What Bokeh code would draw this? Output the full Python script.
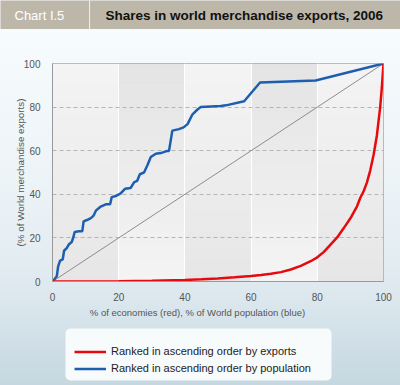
import numpy as np
from bokeh.plotting import figure
from bokeh.layouts import column
from bokeh.models import BoxAnnotation, Label, Legend, LegendItem, FixedTicker, Range1d
from bokeh.embed import file_html
from bokeh.resources import INLINE

# ---------------- data ----------------
title_tag = "Chart I.5"
title_text = "Shares in world merchandise exports, 2006"
x_label = "% of economies (red), % of World population (blue)"
y_label = "(% of World merchandise exports)"
ticks = [0, 20, 40, 60, 80, 100]
red_label = "Ranked in ascending order by exports"
blue_label = "Ranked in ascending order by population"

red_x = [0, 10, 20, 30, 40, 45, 50, 55, 60, 63, 66, 69, 72, 75, 78, 80, 82, 84, 86, 88,
         90, 92, 93, 94, 95, 96, 97, 98, 99, 99.5, 100]
red_y = [0, 0.05, 0.15, 0.35, 0.7, 1.0, 1.4, 1.9, 2.5, 3.0, 3.6, 4.3, 5.5, 7.2, 9.3, 11.1,
         13.6, 16.9, 20.2, 24.5, 29.0, 34.5, 38.4, 41.4, 45.5, 51, 58, 67, 80, 89, 100]

blue_x = [0, 0.5, 1.3, 1.7, 2.3, 3.1, 3.5, 4.3, 5.0, 5.8, 6.3, 6.7, 8.0, 9.0, 9.4, 10.4,
          11.6, 12.4, 13.1, 14.4, 16.1, 17.4, 17.9, 19.1, 20.6, 21.9, 23.6, 24.7, 25.6,
          26.4, 27.7, 28.7, 29.7, 31.2, 32.7, 34.7, 35.2, 36.2, 38.2, 39.6, 40.8, 42.3,
          43.8, 44.8, 50.8, 52.4, 57.9, 62.7, 79.5, 100]
blue_y = [0, 0.9, 2.4, 6.9, 9.6, 10.2, 14.1, 15.3, 17.1, 18.1, 20.3, 22.7, 23.0, 23.1,
          27.6, 28.2, 29.1, 30.2, 32.5, 34.2, 35.4, 35.4, 38.7, 39.2, 40.4, 42.5, 42.9,
          45.6, 46.2, 49.2, 50.1, 53.4, 57.1, 58.6, 58.9, 59.9, 59.9, 69.2, 69.9, 70.7,
          72.2, 76.7, 78.9, 80.0, 80.5, 80.8, 82.7, 91.3, 92.2, 100]

diag_x = [0, 100]
diag_y = [0, 100]

# ---------------- layout ----------------
W = 400
TH = 29            # title bar height
MH = 274           # main figure height
FH_ = 82           # footer height
BL, BR, BT, BB = 52, 17, 34, 18
FONT = "Liberation Sans"
RED = "#e8090f"
BLUE = "#1e5eb0"
GRADIENT = ("linear-gradient(to bottom, #f7fbfd 0px, #f7fbfd 29px, #ecf3f7 190px, "
            "#dee9ef 290px, #c5d7e0 385px)")


def hexc(c):
    return "#%02x%02x%02x" % tuple(int(round(v)) for v in c)


# ---- title bar ----
t = figure(width=W, height=TH, output_backend="svg", toolbar_location=None,
           x_range=Range1d(0, W), y_range=Range1d(0, TH), x_axis_type=None, y_axis_type=None,
           min_border=0, frame_align=False)
t.outline_line_color = None
t.grid.visible = False
t.background_fill_color = "#bdb7aa"
t.border_fill_color = "#bdb7aa"
t.add_layout(BoxAnnotation(left=88.5, right=89.6, fill_color="#f4f2ee", fill_alpha=0.9,
                           line_color=None))
t.add_layout(Label(x=14, y=TH / 2, text=title_tag, text_color="white", text_font=FONT,
                   text_font_size="13px", text_baseline="middle", text_align="left"))
t.add_layout(Label(x=105, y=TH / 2, text=title_text, text_color="#111111", text_font=FONT,
                   text_font_size="13.5px", text_font_style="bold",
                   text_baseline="middle", text_align="left"))

# ---- main chart ----
p = figure(width=W, height=MH, output_backend="svg", toolbar_location=None,
           x_range=Range1d(ticks[0], ticks[-1]), y_range=Range1d(ticks[0], ticks[-1]),
           min_border_left=BL, min_border_right=BR, min_border_top=BT, min_border_bottom=BB,
           frame_align=False)
p.border_fill_color = None
p.background_fill_color = "#eeeeee"
p.outline_line_color = "#a8a8a8"

NS = 30
ys = np.linspace(ticks[0], ticks[-1], NS + 1)
for i in range(len(ticks) - 1):
    for j in range(NS):
        f = (ys[j] + ys[j + 1]) / 2 / ticks[-1]  # 0 bottom, 1 top
        if i % 2 == 0:
            g = 230 + (244 - 230) * f
        else:
            g = 244 + (228 - 244) * f
        p.quad(left=[ticks[i]], right=[ticks[i + 1]], bottom=[ys[j]], top=[ys[j + 1]],
               fill_color=hexc([g, g, g]), line_color=None, level="image")

p.xgrid.ticker = FixedTicker(ticks=ticks[1:-1])
p.xgrid.grid_line_color = "white"
p.xgrid.grid_line_width = 1
p.ygrid.ticker = FixedTicker(ticks=ticks[1:-1])
p.ygrid.grid_line_color = "#b5b5b5"
p.ygrid.grid_line_dash = "4 3"
p.ygrid.grid_line_width = 1

for ax in (p.xaxis[0], p.yaxis[0]):
    ax.ticker = FixedTicker(ticks=ticks)
    ax.major_tick_line_color = None
    ax.minor_tick_line_color = None
    ax.axis_line_color = "#999999"
    ax.major_label_text_font = FONT
    ax.major_label_text_font_size = "10px"
    ax.major_label_text_color = "#555555"
p.xaxis.major_label_standoff = 5
p.yaxis.major_label_standoff = 6
p.yaxis.axis_label = y_label
p.yaxis.axis_label_text_font = FONT
p.yaxis.axis_label_text_font_size = "9.8px"
p.yaxis.axis_label_text_font_style = "normal"
p.yaxis.axis_label_text_color = "#555555"
p.yaxis.axis_label_standoff = -5

p.line(diag_x, diag_y, line_color="#8c8c8c", line_width=1)
p.line(blue_x, blue_y, line_color=BLUE, line_width=2.5)
p.line(red_x, red_y, line_color=RED, line_width=2.5)

# ---- footer: x-axis label and legend ----
fo = figure(width=W, height=FH_, output_backend="svg", toolbar_location=None,
            x_range=Range1d(0, W), y_range=Range1d(0, FH_), x_axis_type=None,
            y_axis_type=None, min_border=0, frame_align=False)
fo.outline_line_color = None
fo.grid.visible = False
fo.background_fill_color = None
fo.border_fill_color = None
fo.add_layout(Label(x=197, y=73, text=x_label, text_font=FONT, text_font_size="9.5px",
                    text_color="#555555", text_align="center", text_baseline="middle"))
fo.add_layout(BoxAnnotation(left=65, right=331, top=57, bottom=5, fill_color="#f8fbfc",
                            fill_alpha=1, line_color=None, border_radius=5, level="underlay"))
red_key = fo.line(x=[float("nan")], y=[float("nan")], line_color=RED, line_width=2.5)
blue_key = fo.line(x=[float("nan")], y=[float("nan")], line_color=BLUE, line_width=2.5)
legend = Legend(items=[LegendItem(label=red_label, renderers=[red_key]),
                       LegendItem(label=blue_label, renderers=[blue_key])],
                location=(74, 9.5), background_fill_alpha=0, border_line_color=None,
                glyph_width=32, glyph_height=15, label_height=15, spacing=2, padding=5,
                margin=0, label_standoff=5, label_text_font=FONT,
                label_text_font_size="11px", label_text_color="#222222")
fo.add_layout(legend)

layout = column(t, p, fo, spacing=0, styles={"background": GRADIENT})

open("out.html", "w").write(file_html(layout, INLINE))
